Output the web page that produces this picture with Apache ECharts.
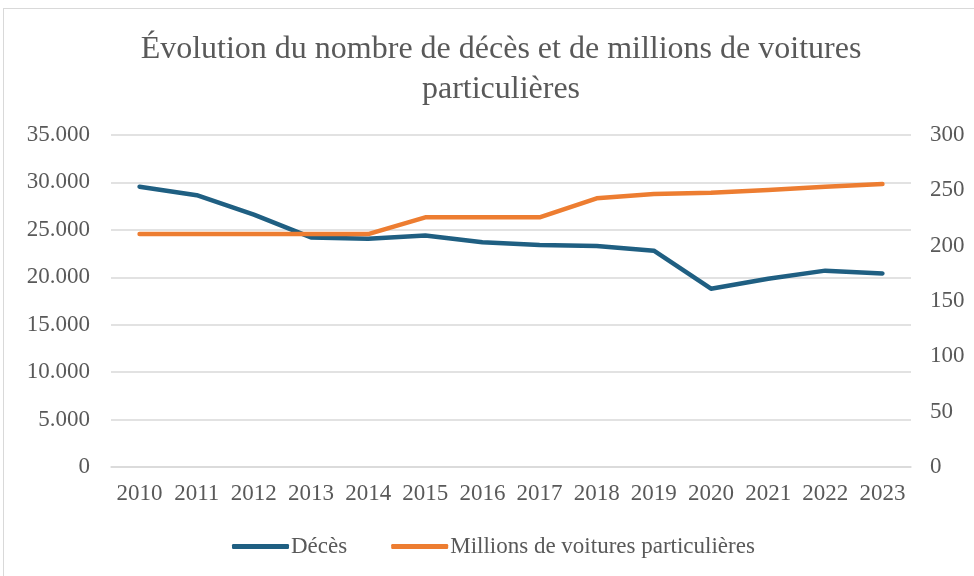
<!DOCTYPE html>
<html>
<head>
<meta charset="utf-8">
<script src="https://cdn.jsdelivr.net/npm/echarts@6/dist/echarts.min.js"></script>
<style>
html,body{margin:0;padding:0;background:#fff;}
#frame{position:absolute;left:3px;top:8px;width:975px;height:575px;border:1px solid #d9d9d9;box-sizing:border-box;}
#chart{position:absolute;left:0;top:0;width:974px;height:576px;}
</style>
</head>
<body>
<div id="frame"></div>
<div id="chart"></div>
<script>
// années
var years = ["2010","2011","2012","2013","2014","2015","2016","2017","2018","2019","2020","2021","2022","2023"];
// nombre de décès (axe gauche)
var deces = [29550, 28650, 26600, 24200, 24050, 24400, 23700, 23400, 23300, 22800, 18800, 19850, 20700, 20400];
// millions de voitures particulières (axe droit)
var voitures = [210.5, 210.5, 210.5, 210.5, 210.5, 225.6, 225.6, 225.6, 242.8, 246.7, 247.9, 250.3, 253.3, 255.7];

var fontFam = '"Liberation Serif", "DejaVu Serif", serif';
var grey = '#595959';

var chart = echarts.init(document.getElementById('chart'));
var option = {
    animation: false,
    title: {
        text: 'Évolution du nombre de décès et de millions de voitures\nparticulières',
        left: 496,
        top: 25,
        textAlign: 'center',
        textStyle: {fontFamily: fontFam, fontSize: 32, fontWeight: 'normal', color: grey, lineHeight: 40}
    },
    legend: {
        bottom: 13,
        left: 227,
        itemWidth: 57,
        itemHeight: 5,
        itemGap: 44,
        icon: 'roundRect',
        textStyle: {fontFamily: fontFam, fontSize: 23, color: grey, padding: [0, 0, 0, -3]},
        data: ['Décès', 'Millions de voitures particulières']
    },
    grid: {left: 111, right: 63, top: 135, bottom: 109},
    xAxis: {
        type: 'category',
        data: years,
        boundaryGap: true,
        axisLine: {lineStyle: {color: '#d9d9d9', width: 1.5}},
        axisTick: {show: false},
        axisLabel: {fontFamily: fontFam, fontSize: 23, color: grey, margin: 15, interval: 0}
    },
    yAxis: [{
        type: 'value',
        min: 0, max: 35000, interval: 5000,
        axisLine: {show: false},
        axisTick: {show: false},
        splitLine: {lineStyle: {color: '#d9d9d9', width: 1.5}},
        axisLabel: {
            fontFamily: fontFam, fontSize: 23, color: grey, margin: 21,
            formatter: function (v) { return v.toString().replace(/\B(?=(\d{3})+(?!\d))/g, '.'); }
        }
    }, {
        type: 'value',
        min: 0, max: 300, interval: 50,
        axisLine: {show: false},
        axisTick: {show: false},
        splitLine: {show: false},
        axisLabel: {fontFamily: fontFam, fontSize: 23, color: grey, margin: 19}
    }],
    series: [{
        name: 'Décès',
        type: 'line',
        yAxisIndex: 0,
        data: deces,
        symbol: 'none',
        lineStyle: {color: '#1f5f82', width: 4.5, cap: 'round', join: 'round'},
        itemStyle: {color: '#1f5f82'}
    }, {
        name: 'Millions de voitures particulières',
        type: 'line',
        yAxisIndex: 1,
        data: voitures,
        symbol: 'none',
        lineStyle: {color: '#ed7d31', width: 4.5, cap: 'round', join: 'round'},
        itemStyle: {color: '#ed7d31'}
    }]
};
chart.setOption(option);
</script>
</body>
</html>
